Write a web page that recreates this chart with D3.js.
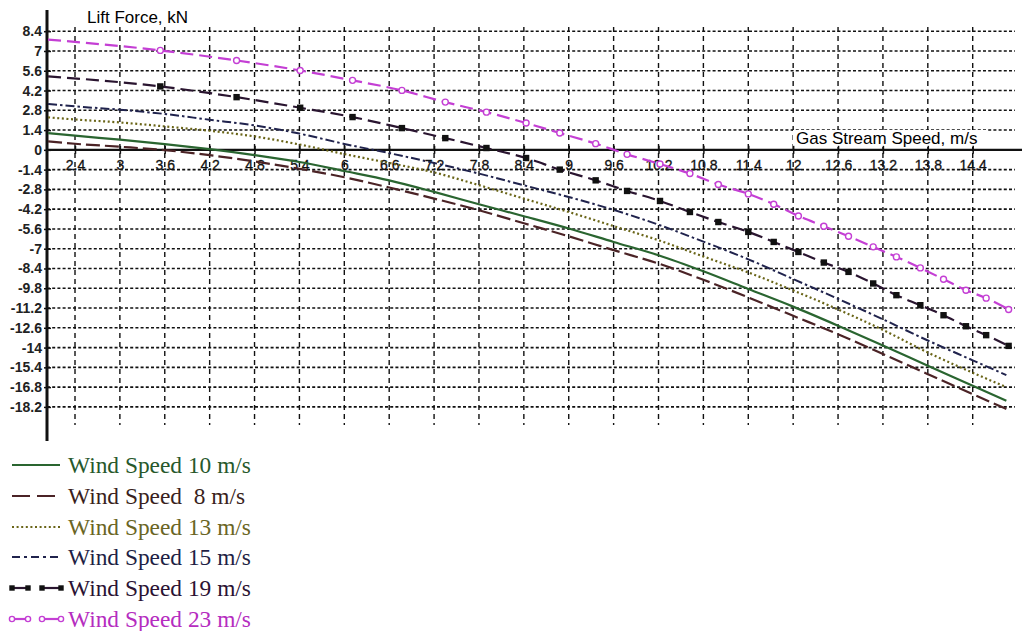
<!DOCTYPE html>
<html>
<head>
<meta charset="utf-8">
<script src="https://cdn.jsdelivr.net/npm/d3@7"></script>
<style>
  html, body { margin: 0; padding: 0; background: #ffffff; }
  svg { display: block; }
</style>
</head>
<body>
<script>
// ---------- DATA ----------
const xTicks = [2.4, 3, 3.6, 4.2, 4.8, 5.4, 6, 6.6, 7.2, 7.8, 8.4, 9, 9.6, 10.2, 10.8, 11.4, 12, 12.6, 13.2, 13.8, 14.4];
const yTicks = [8.4, 7, 5.6, 4.2, 2.8, 1.4, 0, -1.4, -2.8, -4.2, -5.6, -7, -8.4, -9.8, -11.2, -12.6, -14, -15.4, -16.8, -18.2];

// gas stream speed samples for the plain lines
const speedA = [2.04, 2.4, 3.0, 3.6, 4.2, 4.8, 5.4, 6.0, 6.6, 7.2, 7.8, 8.4, 9.0, 9.6, 10.2, 10.8, 11.4, 12.0, 12.6, 13.2, 13.8, 14.4, 14.85];
const wind10 = [1.19, 1.0, 0.72, 0.41, 0.05, -0.37, -0.86, -1.5, -2.16, -2.98, -3.85, -4.7, -5.57, -6.52, -7.46, -8.6, -9.85, -11.1, -12.45, -13.85, -15.28, -16.7, -17.77];
const wind8  = [0.6, 0.43, 0.22, -0.02, -0.38, -0.82, -1.34, -1.94, -2.67, -3.45, -4.28, -5.2, -6.12, -7.1, -8.05, -9.2, -10.45, -11.75, -13.05, -14.45, -15.88, -17.3, -18.35];
const wind13 = [2.3, 2.15, 1.94, 1.66, 1.35, 0.95, 0.38, -0.3, -0.93, -1.6, -2.5, -3.45, -4.4, -5.4, -6.4, -7.55, -8.68, -9.95, -11.3, -12.75, -14.35, -15.78, -16.8];
const wind15 = [3.25, 3.08, 2.84, 2.54, 2.13, 1.73, 1.15, 0.42, -0.23, -0.93, -1.68, -2.51, -3.34, -4.25, -5.3, -6.5, -7.75, -9.15, -10.55, -12.0, -13.5, -14.9, -15.95];

// gas stream speed samples for the marked lines (first sample has no marker)
const speedB = [2.04, 3.54, 4.56, 5.41, 6.11, 6.77, 7.35, 7.9, 8.43, 8.88, 9.36, 9.78, 10.22, 10.62, 11.0, 11.4, 11.74, 12.07, 12.41, 12.74, 13.07, 13.38, 13.7, 14.01, 14.31, 14.58, 14.88];
const wind19 = [5.2, 4.49, 3.73, 2.98, 2.32, 1.54, 0.83, 0.13, -0.58, -1.4, -2.16, -2.91, -3.62, -4.4, -5.11, -5.81, -6.52, -7.23, -7.98, -8.64, -9.46, -10.29, -11.0, -11.71, -12.49, -13.12, -13.88];
const wind23 = [7.81, 7.04, 6.33, 5.62, 4.92, 4.21, 3.38, 2.67, 1.9, 1.19, 0.44, -0.32, -1.0, -1.68, -2.45, -3.12, -3.85, -4.68, -5.41, -6.12, -6.87, -7.58, -8.36, -9.16, -9.94, -10.5, -11.3];

const seriesNames = ["Wind Speed 10 m/s", "Wind Speed  8 m/s", "Wind Speed 13 m/s", "Wind Speed 15 m/s", "Wind Speed 19 m/s", "Wind Speed 23 m/s"];

// ---------- STYLES ----------
const styles = [
  { xs: speedA, ys: wind10, color: "#2a6530", text: "#27582b", dash: null,        legDash: null,      width: 2.2, marker: null },
  { xs: speedA, ys: wind8,  color: "#4b2326", text: "#3a1f20", dash: "14,5",      legDash: "18,7",    width: 2.2, marker: null },
  { xs: speedA, ys: wind13, color: "#6a6518", text: "#6a6524", dash: "2,2.6",     legDash: "2,2.6",   width: 2.2, marker: null },
  { xs: speedA, ys: wind15, color: "#20234d", text: "#1f1f45", dash: "9,3,2.5,3", legDash: "8,4,3,4", width: 2.0, marker: null },
  { xs: speedB, ys: wind19, color: "#2a1530", text: "#2b1233", dash: "13,6",      legDash: null,      width: 2.2, marker: "square" },
  { xs: speedB, ys: wind23, color: "#c43fd4", text: "#b52cbf", dash: "13,6",      legDash: null,      width: 2.2, marker: "circle" }
];

// ---------- CHART ----------
const W = 1022, H = 631;
const AXIS_X = 47;
const svg = d3.select("body").append("svg").attr("width", W).attr("height", H);
svg.append("rect").attr("width", W).attr("height", H).attr("fill", "#fff");

const x = d3.scaleLinear().domain([2.4, 14.4]).range([75, 972.7]);
const y = d3.scaleLinear().domain([8.4, -18.2]).range([31.2, 406.9]);
const y0 = y(0);

// grid
const grid = svg.append("g");
grid.selectAll("line.h").data(yTicks.filter(d => d !== 0)).join("line")
  .attr("x1", AXIS_X).attr("x2", 1015)
  .attr("y1", d => y(d)).attr("y2", d => y(d))
  .attr("stroke", "#111").attr("stroke-width", 1.6).attr("stroke-dasharray", "3,2.2");
grid.selectAll("line.v").data(xTicks).join("line")
  .attr("x1", d => x(d)).attr("x2", d => x(d))
  .attr("y1", 27).attr("y2", 425)
  .attr("stroke", "#111").attr("stroke-width", 1.4).attr("stroke-dasharray", "5,4");

// x-axis title (with white box)
svg.append("rect").attr("x", 793).attr("y", 130).attr("width", 194).attr("height", 17).attr("fill", "#fff");
svg.append("text").attr("x", 796).attr("y", 144)
  .attr("font-family", "Liberation Sans, Arial, sans-serif").attr("font-size", 17)
  .attr("fill", "#000").text("Gas Stream Speed, m/s");

// axis lines
svg.append("line").attr("x1", AXIS_X).attr("x2", W).attr("y1", y0).attr("y2", y0)
  .attr("stroke", "#111").attr("stroke-width", 2.4);
svg.append("line").attr("x1", AXIS_X).attr("x2", AXIS_X).attr("y1", 10).attr("y2", 441)
  .attr("stroke", "#111").attr("stroke-width", 3);

// y axis ticks + labels
const yAxis = d3.axisLeft(y).tickValues(yTicks).tickSize(0).tickPadding(5).tickFormat(d => String(d));
const gy = svg.append("g").attr("transform", `translate(${AXIS_X},0)`).call(yAxis);
gy.select(".domain").remove();
gy.selectAll("text").attr("font-family", "Liberation Sans, Arial, sans-serif")
  .attr("font-size", 14).attr("font-weight", "bold").attr("fill", "#222");
gy.selectAll(".tick").append("line").attr("x1", -3).attr("x2", 4).attr("stroke", "#111").attr("stroke-width", 1.5);

// x axis ticks + labels
const xAxis = d3.axisBottom(x).tickValues(xTicks).tickSize(0).tickFormat(d => String(d));
const gx = svg.append("g").attr("transform", `translate(0,${y0})`).call(xAxis);
gx.select(".domain").remove();
gx.selectAll("text").attr("y", 10).attr("dy", "0.71em")
  .attr("font-family", "Liberation Sans, Arial, sans-serif")
  .attr("font-size", 14).attr("fill", "#111").attr("stroke", "#111").attr("stroke-width", 0.3);
gx.selectAll(".tick").append("line").attr("y1", -4).attr("y2", 4).attr("stroke", "#111").attr("stroke-width", 1.5);

// y-axis title
svg.append("text").attr("x", 87).attr("y", 23)
  .attr("font-family", "Liberation Sans, Arial, sans-serif").attr("font-size", 17)
  .attr("fill", "#000").text("Lift Force, kN");

// series
const line = d3.line().x(d => x(d[0])).y(d => y(d[1])).curve(d3.curveMonotoneX);
styles.forEach((s, i) => {
  const pts = s.xs.map((v, k) => [v, s.ys[k]]);
  svg.append("path").datum(pts)
    .attr("d", line).attr("fill", "none")
    .attr("stroke", s.color).attr("stroke-width", s.width)
    .attr("stroke-dasharray", s.dash);
  const mk = pts.slice(1);
  if (s.marker === "square") {
    svg.append("g").selectAll("rect").data(mk).join("rect")
      .attr("x", d => x(d[0]) - 3.2).attr("y", d => y(d[1]) - 3.2)
      .attr("width", 6.4).attr("height", 6.4).attr("fill", "#111");
  } else if (s.marker === "circle") {
    svg.append("g").selectAll("circle").data(mk).join("circle")
      .attr("cx", d => x(d[0])).attr("cy", d => y(d[1])).attr("r", 3)
      .attr("fill", "#fff").attr("stroke", s.color).attr("stroke-width", 1.4);
  }
});

// legend
const legY = [465, 496, 527, 557, 588, 619];
const leg = svg.append("g");
styles.forEach((s, i) => {
  const cy = legY[i];
  const g = leg.append("g");
  if (s.marker) {
    [[12, 28], [42, 61]].forEach(([a, b]) => {
      g.append("line").attr("x1", a).attr("x2", b).attr("y1", cy).attr("y2", cy)
        .attr("stroke", s.color).attr("stroke-width", 2.2);
      [a, b].forEach(px => {
        if (s.marker === "square") {
          g.append("rect").attr("x", px - 2.7).attr("y", cy - 2.7).attr("width", 5.4).attr("height", 5.4).attr("fill", "#111");
        } else {
          g.append("circle").attr("cx", px).attr("cy", cy).attr("r", 2.6)
            .attr("fill", "#fff").attr("stroke", s.color).attr("stroke-width", 1.4);
        }
      });
    });
  } else {
    g.append("line").attr("x1", 12).attr("x2", 60).attr("y1", cy).attr("y2", cy)
      .attr("stroke", s.color).attr("stroke-width", 2)
      .attr("stroke-dasharray", s.legDash);
  }
  g.append("text").attr("x", 68).attr("y", cy + 8)
    .attr("font-family", "Liberation Serif, 'Times New Roman', serif")
    .attr("font-size", 23.4).attr("fill", s.text)
    .style("white-space", "pre").text(seriesNames[i]);
});
</script>
</body>
</html>
